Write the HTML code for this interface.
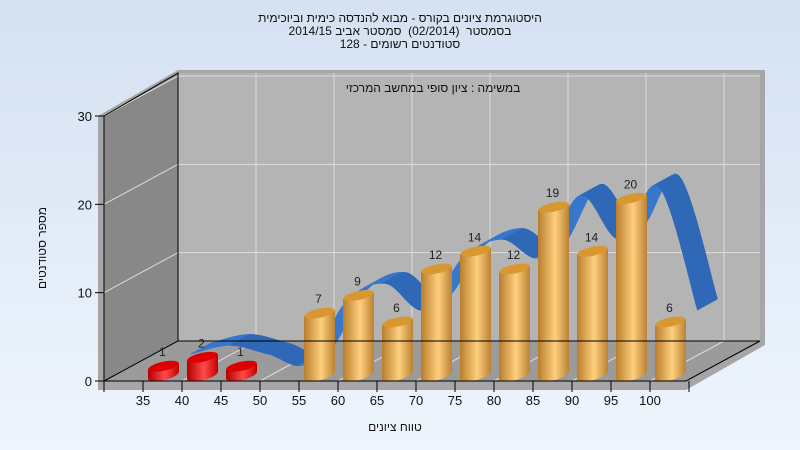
<!DOCTYPE html>
<html><head><meta charset="utf-8"><style>
html,body{margin:0;padding:0;width:800px;height:450px;overflow:hidden;}
svg{display:block;font-family:"Liberation Sans","DejaVu Sans",sans-serif;}
</style></head><body>
<svg id="chart" width="800" height="450" viewBox="0 0 800 450">
<defs>
<linearGradient id="bg" x1="0" y1="0" x2="0" y2="1"><stop offset="0" stop-color="#d5e1f2"/><stop offset="1" stop-color="#eef5fd"/></linearGradient>
<linearGradient id="gOr" x1="0" y1="0" x2="1" y2="0"><stop offset="0" stop-color="#b77d2c"/><stop offset="0.55" stop-color="#ffcf7e"/><stop offset="1" stop-color="#bb8233"/></linearGradient>
<linearGradient id="gRd" x1="0" y1="0" x2="1" y2="0"><stop offset="0" stop-color="#b00000"/><stop offset="0.55" stop-color="#ff4a4a"/><stop offset="1" stop-color="#c20000"/></linearGradient>
</defs>
<rect width="800" height="450" fill="url(#bg)"/>
<g font-size="12" fill="#111" text-anchor="middle">
<text x="400" y="22" direction="rtl">היסטוגרמת ציונים בקורס - מבוא להנדסה כימית וביוכימית</text>
<text x="400" y="35" direction="rtl">בסמסטר&#160; (02/2014)&#160; סמסטר אביב 2014/15</text>
<text x="400" y="48" direction="rtl">סטודנטים רשומים - 128</text>
</g>
<g id="frame">
<polygon points="178,70 765,70 765,345 686,390 98,390 98,116 178,70" fill="#a6a6a6"/>
<rect x="178" y="73" width="582" height="268" fill="#b4b4b4"/>
<polygon points="104,116 178,73 178,341 104,381" fill="#888"/>
<polygon points="104,381 178,341 760,341 686,381" fill="#9b9b9b"/>
</g>
<g id="grid" stroke="#dcdcdc" stroke-width="1"></g>
<g id="ribbon"></g>
<g id="bars"></g>
<g id="axes" stroke="#000" stroke-width="1" fill="none">
<polyline points="104,381 104,116 178,73 178,341 104,381"/>
<polyline points="104,381 686,381 760,341 178,341"/>
</g>
<g id="ticks"></g>
<text x="433" y="92" font-size="12" text-anchor="middle" direction="rtl" fill="#111">במשימה : ציון סופי במחשב המרכזי</text>
<text x="395" y="431" font-size="12" text-anchor="middle" direction="rtl" fill="#111">טווח ציונים</text>
<text transform="translate(46,248) rotate(-90)" font-size="12" text-anchor="middle" direction="rtl" fill="#111">מספר סטודנטים</text>
</svg>
<script>
const bins = [35,40,45,50,55,60,65,70,75,80,85,90,95,100];
const counts = [1,2,1,0,7,9,6,12,14,12,19,14,20,6];
const yTicks = [0,10,20,30];
const xTicks = [35,40,45,50,55,60,65,70,75,80,85,90,95,100];
const NS = "http://www.w3.org/2000/svg";
const DX = 74, DY = -40;
function xs(v){ return 104 + (v - 30) * 7.8; }
function ys(v){ return 381 - v * (265 / 30); }
function mk(tag, attrs, parent){ const e = document.createElementNS(NS, tag); for (const k in attrs) e.setAttribute(k, attrs[k]); parent.appendChild(e); return e; }
const grid = document.getElementById('grid');
yTicks.forEach(t => {
  if (t === 0) return;
  const y = ys(t);
  const l1 = mk('line', {x1:104, y1:y, x2:104+DX, y2:y+DY}, grid);
  
  
  const l2 = mk('line', {x1:178, y1:y+DY, x2:760, y2:y+DY}, grid);
  
  
});
[40,50,60,70,80,90,100].forEach(v => {
  const x = xs(v);
  const l1 = mk('line', {x1:x+DX, y1:73, x2:x+DX, y2:341}, grid);
  
  
  const l2 = mk('line', {x1:x, y1:381, x2:x+DX, y2:341}, grid);
  
  
});
// ribbon: spline of counts at mid depth
const rib = document.getElementById('ribbon');
function spline(pts, n){
  const out = [];
  for (let i = 0; i < pts.length - 1; i++){
    const p0 = pts[Math.max(0,i-1)], p1 = pts[i], p2 = pts[i+1], p3 = pts[Math.min(pts.length-1,i+2)];
    for (let s = 0; s < n; s++){
      const t = s / n, t2 = t*t, t3 = t2*t;
      const f = (a,b,c,d) => 0.5*((2*b)+(-a+c)*t+(2*a-5*b+4*c-d)*t2+(-a+3*b-3*c+d)*t3);
      out.push([f(p0[0],p1[0],p2[0],p3[0]), f(p0[1],p1[1],p2[1],p3[1])]);
    }
  }
  out.push(pts[pts.length-1]);
  return out;
}
const base = bins.map((b,i) => [xs(b+2.5), ys(counts[i]) - 3]);
const front = spline(base.map(p => [p[0]+28, p[1]-15]), 12);
const back = spline(base.map(p => [p[0]+48, p[1]-26]), 12);
for (let i = 0; i < front.length - 1; i++){
  const a = front[i], b = front[i+1], c = back[i+1], d = back[i];
  const rising = (b[1] < a[1]);
  const q = mk('polygon', {points:[a,b,c,d].map(p=>p[0].toFixed(1)+','+p[1].toFixed(1)).join(' '), fill: rising ? '#3777cc' : '#2f68b6', stroke: rising ? '#3777cc' : '#2f68b6', 'stroke-width':0.6}, rib);
  
  
}
// bars
const bars = document.getElementById('bars');
bins.forEach((b,i) => {
  const v = counts[i];
  if (v <= 0) return;
  const cx = xs(b+2.5) + 1, w = 31, baseY = 375, topY = baseY - v * (265/30);
  const red = b < 55;
  const g = mk('g', {}, bars);
  
  
  mk('path', {d:`M${cx-w/2},${topY+3} L${cx-w/2},${baseY+3} A${w/2},5 -14 0 0 ${cx+w/2},${baseY-3} L${cx+w/2},${topY-3} Z`, fill: red ? 'url(#gRd)' : 'url(#gOr)'}, g);
  mk('ellipse', {cx:cx, cy:topY, rx:w/2, ry:4.5, transform:`rotate(-12 ${cx} ${topY})`, fill: red ? '#dd0000' : '#d8982f'}, g);
  const t = mk('text', {x:cx-1, y:topY-10, 'font-size':12, 'text-anchor':'middle', fill:'#222'}, g);
  t.textContent = v;
  
  
});
// ticks
const tk = document.getElementById('ticks');
yTicks.forEach(t => {
  const y = ys(t);
  const l = mk('line', {x1:95, y1:y, x2:104, y2:y, stroke:'#000'}, tk);
  
  
  const tx = mk('text', {x:92, y:y+5, 'font-size':13, 'text-anchor':'end', fill:'#111'}, tk);
  tx.textContent = t;
  
  
});
[30].concat(xTicks, [105]).forEach(v => {
  const x = xs(v);
  const l = mk('line', {x1:x, y1:381, x2:x, y2:392, stroke:'#000'}, tk);
  
  
});
xTicks.forEach(v => {
  const tx = mk('text', {x:xs(v), y:405, 'font-size':13, 'text-anchor':'middle', fill:'#111'}, tk);
  tx.textContent = v;
  
  
});
</script>
</body></html>
